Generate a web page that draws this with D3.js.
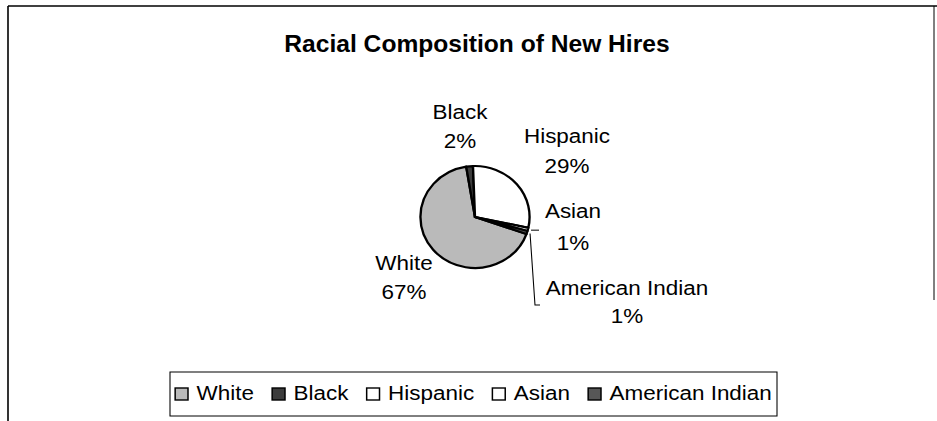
<!DOCTYPE html>
<html>
<head>
<meta charset="utf-8">
<script src="https://cdn.jsdelivr.net/npm/d3@7"></script>
<style>
  body { margin: 0; background: #fff; }
  text { font-family: "Liberation Sans", Arial, sans-serif; fill: #000; }
</style>
</head>
<body>
<svg id="chart" width="937" height="421"></svg>
<script>
// data
const categories = ["White", "Black", "Hispanic", "Asian", "American Indian"];
const percents = [67, 2, 29, 1, 1];
const colors = ["#bababa", "#3c3c3c", "#ffffff", "#ffffff", "#575757"];
const title = "Racial Composition of New Hires";

// label layout (picture px): centre x, first and second baselines
const labelPos = [
  { x: 404, y1: 270, y2: 299 },
  { x: 460, y1: 119, y2: 148 },
  { x: 567, y1: 143, y2: 173 },
  { x: 573, y1: 218, y2: 250 },
  { x: 627, y1: 295, y2: 323 }
];

const sx = 1.07; // scan is stretched a little horizontally
const W = 937, H = 421;
const cx = 475, cy = 217, r = 51;

const svg = d3.select("#chart");
svg.append("rect").attr("width", W).attr("height", H).attr("fill", "#fff");

// outer frame
const frame = svg.append("g").attr("stroke", "#000").attr("stroke-width", 1.6).attr("fill", "none");
frame.append("line").attr("x1", 8).attr("y1", 6).attr("x2", W).attr("y2", 6);
frame.append("line").attr("x1", 8).attr("y1", 6).attr("x2", 8).attr("y2", H);
frame.append("line").attr("x1", 934).attr("y1", 6).attr("x2", 934).attr("y2", 300).attr("stroke-width", 1);

const root = svg.append("g").attr("transform", `scale(${sx},1)`);
const X = v => v / sx;

root.append("text")
  .attr("x", X(477)).attr("y", 52)
  .attr("text-anchor", "middle")
  .attr("font-size", 23).attr("font-weight", "bold")
  .text(title);

// pie
const pie = d3.pie().sort(null).value(d => d)
  .startAngle(109.5 * Math.PI / 180)
  .endAngle((109.5 + 360) * Math.PI / 180);
const arcs = pie(percents);
const arc = d3.arc().innerRadius(0).outerRadius(r);

const pg = root.append("g").attr("transform", `translate(${X(cx)},${cy})`);
pg.selectAll("path")
  .data(arcs)
  .join("path")
  .attr("d", arc)
  .attr("fill", (d, i) => colors[i])
  .attr("stroke", "#000")
  .attr("stroke-width", 2.2)
  .attr("stroke-linejoin", "round");

// leader lines for the thin slices
function edgePoint(d, extra) {
  const a = (d.startAngle + d.endAngle) / 2;
  return [X(cx) + (r + extra) * Math.sin(a), cy - (r + extra) * Math.cos(a)];
}
const lead = root.append("g").attr("stroke", "#000").attr("stroke-width", 1).attr("fill", "none");
{
  const p = edgePoint(arcs[3], 3);
  lead.append("path").attr("d", d3.line()([p, [X(539), p[1]]]));
  const q = edgePoint(arcs[4], 3);
  lead.append("path").attr("d", d3.line()([q, [X(535), 305], [X(540), 305]]));
}

// data labels
const lab = root.append("g").attr("font-size", 21).attr("text-anchor", "middle");
categories.forEach((c, i) => {
  const p = labelPos[i];
  lab.append("text").attr("x", X(p.x)).attr("y", p.y1).text(c);
  lab.append("text").attr("x", X(p.x)).attr("y", p.y2).text(percents[i] + "%");
});

// legend
const lx0 = 170, lx1 = 777, ly0 = 372, ly1 = 416;
root.append("rect")
  .attr("x", X(lx0)).attr("y", ly0)
  .attr("width", X(lx1 - lx0)).attr("height", ly1 - ly0)
  .attr("fill", "#fff").attr("stroke", "#000").attr("stroke-width", 1);

const lg = root.append("g").attr("font-size", 21);
const sw = 12, gapSw = 8, gapItem = 17;
const items = categories.map((c, i) => {
  const g = lg.append("g");
  g.append("rect").attr("width", sw).attr("height", 12).attr("y", 388)
    .attr("fill", colors[i]).attr("stroke", "#000").attr("stroke-width", 1.4);
  const t = g.append("text").attr("x", sw + gapSw).attr("y", 400).text(c);
  return { g, w: sw + gapSw + t.node().getComputedTextLength() };
});
const total = d3.sum(items, d => d.w) + gapItem * (items.length - 1);
let x = X((lx0 + lx1) / 2) - total / 2;
items.forEach(it => {
  it.g.attr("transform", `translate(${x},0)`);
  x += it.w + gapItem;
});
</script>
</body>
</html>
